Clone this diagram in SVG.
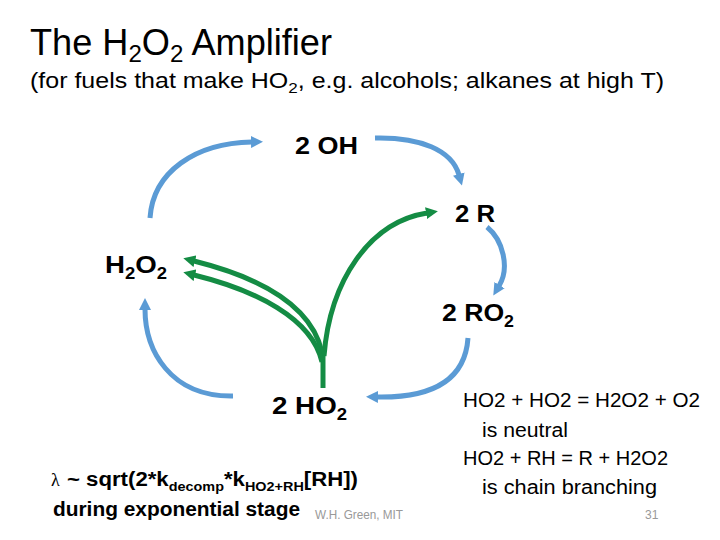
<svg xmlns="http://www.w3.org/2000/svg" width="720" height="540" viewBox="0 0 720 540">
<style>
  text { font-family: "Liberation Sans", Arial, sans-serif; fill: #000; }
  .node { font-size: 24px; font-weight: bold; }
  .sub { font-size: 16px; }
  .blue { fill: none; stroke: #5B9BD5; stroke-width: 5; stroke-linecap: butt; marker-end: url(#ab); }
  .green { fill: none; stroke: #148C44; stroke-width: 5; stroke-linecap: butt; }
  .garrow { marker-end: url(#ag); }
  .note { font-size: 20px; }
  .foot { font-size: 12px; fill: #999; }
</style>
<defs>
  <marker id="ab" viewBox="0 0 12 12" markerWidth="12" markerHeight="13" refX="1" refY="6" orient="auto" markerUnits="userSpaceOnUse">
    <path d="M0,0 L12,6 L0,12 z" fill="#5B9BD5"/>
  </marker>
  <marker id="ag" viewBox="0 0 12 12" markerWidth="12" markerHeight="13" refX="1" refY="6" orient="auto" markerUnits="userSpaceOnUse">
    <path d="M0,0 L12,6 L0,12 z" fill="#148C44"/>
  </marker>
</defs>

<g id="title">
  <text x="30" y="55" font-size="36" textLength="302" lengthAdjust="spacingAndGlyphs">The H<tspan font-size="24" dy="7">2</tspan><tspan dy="-7">O</tspan><tspan font-size="24" dy="7">2</tspan><tspan dy="-7"> Amplifier</tspan></text>
  <text x="30" y="88" font-size="22" textLength="634" lengthAdjust="spacingAndGlyphs">(for fuels that make HO<tspan font-size="15" dy="5">2</tspan><tspan dy="-5">, e.g. alcohols; alkanes at high T)</tspan></text>
</g>

<g id="connectors">
  <path class="blue" d="M150,218 C153,172 195,143 252,142"/>
  <path class="blue" d="M375,138 C420,137 452,150 459,175"/>
  <path class="blue" d="M487,227 C503,240 510,268 499,286"/>
  <path class="blue" d="M468,338 C465,382 430,398 377,397"/>
  <path class="blue" d="M233,396 C170,397 145,350 145,309"/>
  <path class="green" d="M323,388 L323,352"/>
  <path class="green garrow" d="M324,356 C330,280 370,222 427,213"/>
  <path class="green garrow" d="M322,352 C310,300 250,275 194,261"/>
  <path class="green garrow" d="M322,362 C312,318 255,290 194,275"/>
</g>

<g id="node-oh">
  <text class="node" x="295" y="154" textLength="63" lengthAdjust="spacingAndGlyphs">2 OH</text>
</g>
<g id="node-r">
  <text class="node" x="455" y="222" textLength="40" lengthAdjust="spacingAndGlyphs">2 R</text>
</g>
<g id="node-h2o2">
  <text class="node" x="105" y="273" textLength="62" lengthAdjust="spacingAndGlyphs">H<tspan class="sub" dy="6">2</tspan><tspan dy="-6">O</tspan><tspan class="sub" dy="6">2</tspan></text>
</g>
<g id="node-ro2">
  <text class="node" x="442" y="321" textLength="72" lengthAdjust="spacingAndGlyphs">2 RO<tspan class="sub" dy="6">2</tspan></text>
</g>
<g id="node-ho2">
  <text class="node" x="272" y="414" textLength="75" lengthAdjust="spacingAndGlyphs">2 HO<tspan class="sub" dy="6">2</tspan></text>
</g>

<g id="notes">
  <text class="note" x="463" y="407" textLength="237" lengthAdjust="spacingAndGlyphs">HO2 + HO2 = H2O2 + O2</text>
  <text class="note" x="482" y="437" textLength="86" lengthAdjust="spacingAndGlyphs">is neutral</text>
  <text class="note" x="463" y="465" textLength="205" lengthAdjust="spacingAndGlyphs">HO2 + RH = R + H2O2</text>
  <text class="note" x="482" y="494" textLength="175" lengthAdjust="spacingAndGlyphs">is chain branching</text>
</g>

<g id="formula">
  <text x="51" y="486" font-size="18" style="font-family: 'Liberation Serif', 'DejaVu Serif', serif;">λ</text>
  <text x="67" y="486" font-size="20" font-weight="bold" textLength="291" lengthAdjust="spacingAndGlyphs">~ sqrt(2*k<tspan font-size="13" dy="5">decomp</tspan><tspan dy="-5">*k</tspan><tspan font-size="13" dy="5">HO2+RH</tspan><tspan dy="-5">[RH])</tspan></text>
  <text x="53" y="516" font-size="20" font-weight="bold" textLength="247" lengthAdjust="spacingAndGlyphs">during exponential stage</text>
</g>

<g id="footer">
  <text class="foot" x="315" y="519" textLength="88" lengthAdjust="spacingAndGlyphs">W.H. Green, MIT</text>
  <text class="foot" x="645" y="519">31</text>
</g>
</svg>
